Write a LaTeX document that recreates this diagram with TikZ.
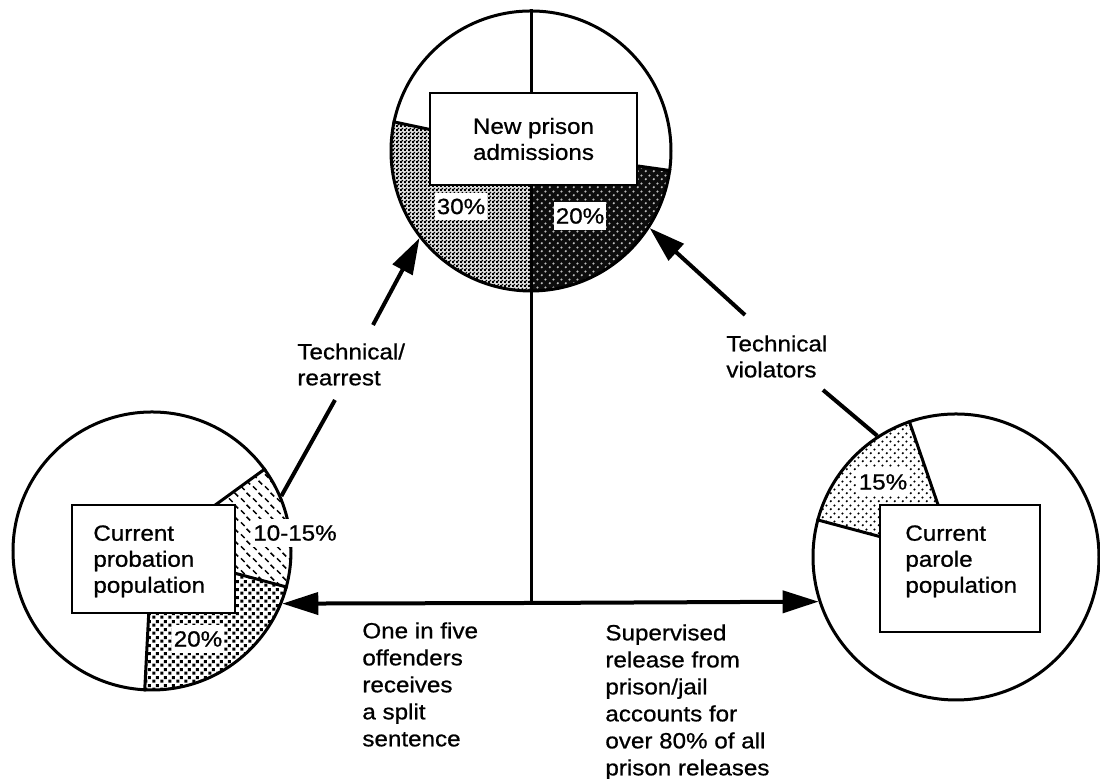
\documentclass[tikz,border=0pt]{standalone}
\usepackage{fontspec}
\setmainfont{Liberation Sans}[FakeStretch=1.1,FakeBold=0.8]
\usetikzlibrary{arrows.meta,patterns,patterns.meta}

\tikzdeclarepattern{
  name=finechecker, type=uncolored,
  bottom left={(0pt,0pt)}, top right={(2pt,2pt)}, tile size={(2pt,2pt)},
  code={\fill (0pt,0pt) rectangle (1.1pt,1.1pt); \fill (1pt,1pt) rectangle (2pt,2pt);}
}
\tikzdeclarepattern{
  name=squaredots, type=uncolored,
  bottom left={(0pt,0pt)}, top right={(4pt,4pt)}, tile size={(4pt,4pt)},
  code={\fill (0.2pt,0.2pt) rectangle (1.9pt,1.9pt); \fill (2.2pt,2.2pt) rectangle (3.9pt,3.9pt);}
}
\tikzdeclarepattern{
  name=slashdash, type=uncolored,
  bottom left={(0pt,0pt)}, top right={(6pt,6pt)}, tile size={(6pt,6pt)},
  code={\draw[line width=0.8pt] (0.5pt,2.5pt) -- (2.5pt,0.5pt); \draw[line width=0.8pt] (3.5pt,5.5pt) -- (5.5pt,3.5pt);}
}
\tikzdeclarepattern{
  name=sparsedots, type=uncolored,
  bottom left={(0pt,0pt)}, top right={(3.8pt,3.8pt)}, tile size={(3.8pt,3.8pt)},
  code={\fill (0.95pt,0.95pt) circle (0.6pt); \fill (2.85pt,2.85pt) circle (0.6pt);}
}

\begin{document}
\begin{tikzpicture}[x=0.5pt,y=0.5pt,
  pieline/.style={line width=1.5pt},
  pie/.style={draw, circle, line width=1.5pt, inner sep=0pt},
  piebox/.style={draw, line width=1.3pt, fill=white, inner sep=0pt},
  lbl/.style={font=\fontsize{11}{13}\selectfont, inner sep=0pt, align=left},
  pct/.style={font=\fontsize{11}{13}\selectfont, fill=white, inner xsep=1pt, inner ysep=3pt},
  link/.style={line width=2pt},
  arr/.style={line width=2pt, -{Triangle[length=18pt,width=11pt]}},
]
\useasboundingbox (0,0) rectangle (1100,779);
\coordinate (tc) at (531,628);
\coordinate (lc) at (152,228);
\coordinate (rc) at (956,222);
\coordinate (hub) at (531,176);
\coordinate (tLa) at (373,454);
\coordinate (tLb) at (335,379);
\coordinate (tRa) at (745,464);
\coordinate (tRb) at (823,389);

% slices
\fill[black!12] (tc) -- ++(168.5:70pt) arc[start angle=168.5, end angle=270, radius=70pt] -- cycle;
\fill[pattern=finechecker] (tc) -- ++(168.5:70pt) arc[start angle=168.5, end angle=270, radius=70pt] -- cycle;
\fill[black!95] (tc) -- ++(270:70pt) arc[start angle=270, end angle=352, radius=70pt] -- cycle;
\fill[pattern=sparsedots, pattern color=white!75!black] (tc) -- ++(270:70pt) arc[start angle=270, end angle=352, radius=70pt] -- cycle;
\fill[pattern=slashdash] (lc) -- ++(-15:69.5pt) arc[start angle=-15, end angle=36.4, radius=69.5pt] -- cycle;
\fill[pattern=squaredots] (lc) -- ++(267:69.5pt) arc[start angle=267, end angle=345, radius=69.5pt] -- cycle;
\fill[pattern=sparsedots] (rc) -- ++(109.3:71.5pt) arc[start angle=109.3, end angle=165.6, radius=71.5pt] -- cycle;

% pies
\node[pie, minimum size=140pt] (top) at (tc) {};
\node[pie, minimum size=139pt] (left) at (lc) {};
\node[pie, minimum size=143pt] (right) at (rc) {};

% dividers
\draw[pieline] (top.north) -- (hub);
\draw[pieline] (tc) -- (top.168.5);
\draw[pieline] (tc) -- (top.352);
\draw[pieline] (lc) -- (left.36.4);
\draw[pieline] (lc) -- (left.-15);
\draw[pieline] (lc) -- (left.267);
\draw[pieline] (rc) -- (right.109.3);
\draw[pieline] (rc) -- (right.165.6);

% boxes
\node[piebox, minimum width=103.5pt, minimum height=46pt, align=center, font=\fontsize{11}{13}\selectfont] (topbox) at (533.5,640) {New prison\\admissions};
\node[piebox, minimum width=81.5pt, minimum height=54pt] (lbox) at (153.5,220) {};
\node[lbl, anchor=north west] (ltext) at (93,254) {Current\\probation\\population};
\node[piebox, minimum width=80pt, minimum height=63.5pt] (rbox) at (960,210.5) {};
\node[lbl, anchor=north west] (rtext) at (905,254) {Current\\parole\\population};

% percentages
\node[pct] (p30) at (461,572.5) {30\%};
\node[pct] (p20t) at (580,563) {20\%};
\node[pct] (p1015) at (295,246) {10-15\%};
\node[pct] (p20l) at (198,140) {20\%};
\node[pct] (p15) at (883,297) {15\%};

% connectors
\draw[arr] (hub) -- (left.-22);
\draw[arr] (hub) -- (right.198.8);
\draw[arr] (tLa) -- (top.218.3);
\draw[link] (tLb) -- (left.23.4);
\draw[arr] (tRa) -- (top.-33.9);
\draw[link] (tRb) -- (right.123.2);

% labels
\node[lbl, anchor=north west] (techL) at (297,436) {Technical/\\rearrest};
\node[lbl, anchor=north west] (techR) at (726,444) {Technical\\violators};
\node[lbl, anchor=north west, font=\fontsize{11}{13.5}\selectfont] (split) at (362,157) {One in five\\offenders\\receives\\a split\\sentence};
\node[lbl, anchor=north west, font=\fontsize{11}{13.5}\selectfont] (superv) at (605,155) {Supervised\\release from\\prison/jail\\accounts for\\over 80\% of all\\prison releases};
\end{tikzpicture}
\end{document}
